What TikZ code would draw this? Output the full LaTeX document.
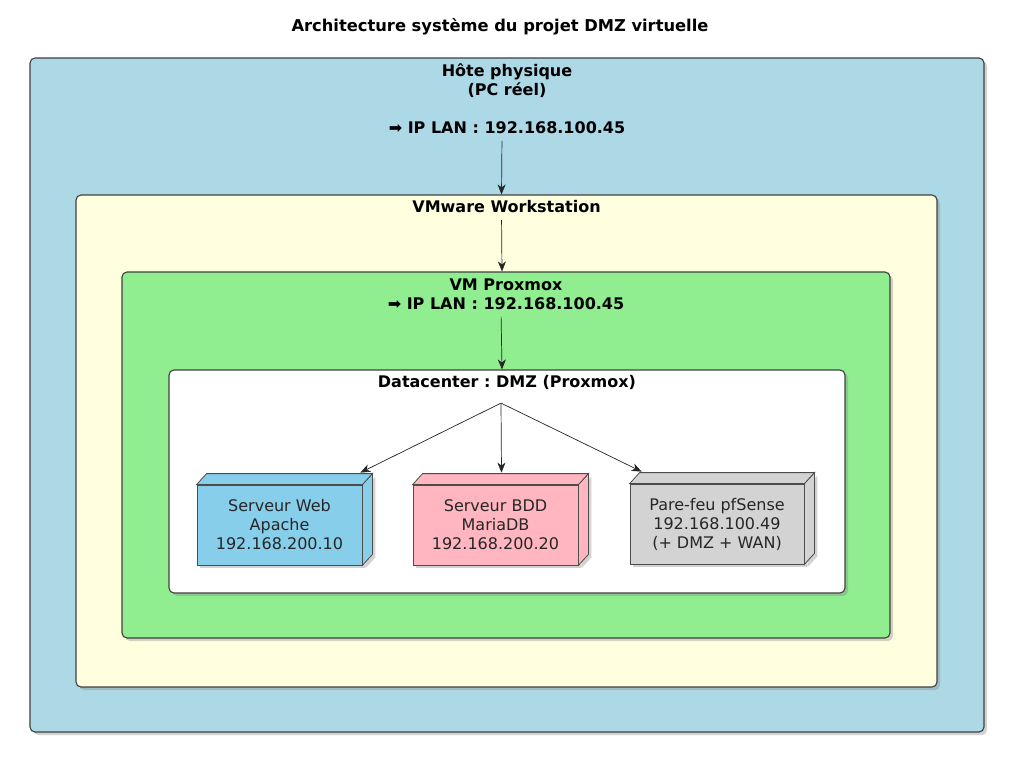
\documentclass[tikz,border=0pt]{standalone}
\usepackage{fontspec}
\setmainfont{DejaVu Sans}
\usetikzlibrary{positioning, shadows, calc, arrows.meta}
\frenchspacing

\definecolor{hostblue}{HTML}{ADD8E6}
\definecolor{vmyellow}{HTML}{FFFFE0}
\definecolor{pvegreen}{HTML}{90EE90}
\definecolor{webblue}{HTML}{87CEEB}
\definecolor{dbpink}{HTML}{FFB6C1}
\definecolor{fwgray}{HTML}{D3D3D3}

\begin{document}
\begin{tikzpicture}[
    x=1pt, y=-1pt,
    font=\fontsize{16}{19}\selectfont,
    pkg/.style={draw=black!75, line width=1.1pt, rounded corners=5pt,
                drop shadow={shadow xshift=3pt, shadow yshift=-3pt, opacity=0.35}},
    pkglabel/.style={font=\bfseries\fontsize{16}{19}\selectfont, align=center, inner sep=1pt},
    server/.style={draw=black!70, line width=0.8pt, align=center, text=black!85,
                   minimum width=165pt, minimum height=80pt,
                   drop shadow={shadow xshift=3pt, shadow yshift=-3pt, opacity=0.35}},
    face/.style={draw=black!70, line width=0.8pt},
    link/.style={draw=black!85, line width=0.7pt, -{Stealth[length=10pt, width=8pt, inset=3pt]}}
]

% Page
\fill[white] (0,0) rectangle (1024,759);

% Title
\node[font=\bfseries\fontsize{16.3}{20}\selectfont] (title) at (500,27) {Architecture système du projet DMZ virtuelle};

% Nested packages
\node[pkg, fill=hostblue, minimum width=954pt, minimum height=674pt] (host) at (507,395) {};
\node[pkglabel, below=5pt of host.north] (hostlbl) {Hôte physique\\(PC réel)\\[19pt]{\mdseries ➡} IP LAN : 192.168.100.45};

\node[pkg, fill=vmyellow, minimum width=861pt, minimum height=492pt] (vmw) at (506.5,441) {};
\node[pkglabel, below=5pt of vmw.north] (vmwlbl) {VMware Workstation};

\node[pkg, fill=pvegreen, minimum width=768pt, minimum height=366pt] (pve) at (506,455) {};
\node[pkglabel, below=6pt of pve.north] (pvelbl) {VM Proxmox\\{\mdseries ➡} IP LAN : 192.168.100.45};

\node[pkg, fill=white, minimum width=676pt, minimum height=223pt] (dc) at (507,481.5) {};
\node[pkglabel, below=5pt of dc.north] (dclbl) {Datacenter : DMZ (Proxmox)};
\coordinate[below=12pt of dclbl, xshift=-6pt] (split);

% Package arrows
\draw[link, shorten <=6pt] ([xshift=-5pt]hostlbl.south) -- ([xshift=-5pt]vmw.north);
\draw[link, shorten <=6pt] ([xshift=-5pt]vmwlbl.south) -- ([xshift=-4pt]pve.north);
\draw[link, shorten <=6pt] ([xshift=-5pt]pvelbl.south) -- ([xshift=-5pt]dc.north);

% Servers
\node[server, fill=webblue] (web) at (279.5,525) {Serveur Web\\Apache\\192.168.200.10};
\node[server, fill=dbpink] (bdd) at (495.5,525) {Serveur BDD\\MariaDB\\192.168.200.20};
\node[server, fill=fwgray, minimum width=174pt] (fw) at (717,524) {Pare-feu pfSense\\192.168.100.49\\(+ DMZ + WAN)};

% 3D faces
\foreach \n/\c in {web/webblue, bdd/dbpink, fw/fwgray} {
    \draw[face, fill=\c, drop shadow={shadow xshift=3pt, shadow yshift=-3pt, opacity=0.35}]
        (\n.north east) -- ++(10,-11) -- ($(\n.south east)+(10,-11)$) -- (\n.south east) -- cycle;
    \draw[face, fill=\c] (\n.north west) -- ++(10,-11) -- ($(\n.north east)+(10,-11)$) -- (\n.north east) -- cycle;
}

% Datacenter arrows
\coordinate (webin) at ($(web.north east)+(-2,-12)$);
\coordinate (bddin) at ($(bdd.north)+(6,-12)$);
\coordinate (fwin) at ($(fw.north west)+(12,-12)$);
\foreach \t in {webin, bddin, fwin} {
    \draw[link] (split) -- (\t);
}

\end{tikzpicture}
\end{document}
